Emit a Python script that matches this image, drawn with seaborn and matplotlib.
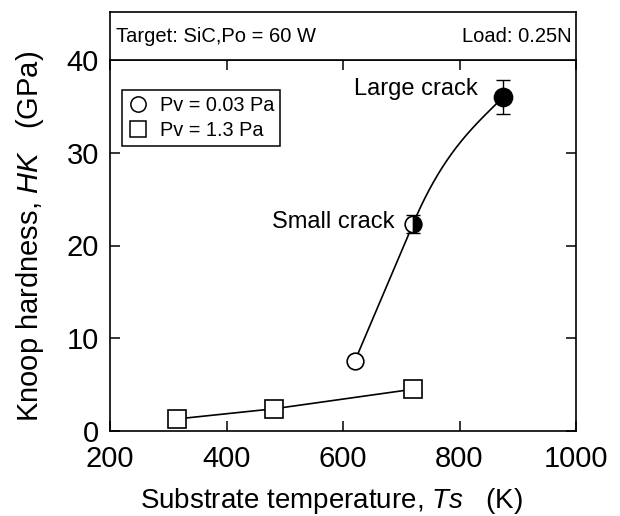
import numpy as np
import pandas as pd
import matplotlib
matplotlib.use("Agg")
import matplotlib.pyplot as plt
from matplotlib.lines import Line2D
import seaborn as sns

# Knoop hardness of SiC films vs substrate temperature
ts_low_p = [620, 720, 875]          # Pv = 0.03 Pa, substrate temperature (K)
hk_low_p = [7.5, 22.3, 36.0]        # Knoop hardness (GPa)
err_low_p = [0.0, 1.0, 1.8]         # hardness scatter (GPa)

ts_high_p = [315, 482, 720]         # Pv = 1.3 Pa
hk_high_p = [1.3, 2.4, 4.5]

x_ticks = [200, 400, 600, 800, 1000]
y_ticks = [0, 10, 20, 30, 40]

sns.set_style("ticks")
plt.rcParams["font.family"] = ["Liberation Sans", "DejaVu Sans"]
plt.rcParams["mathtext.fontset"] = "custom"
plt.rcParams["mathtext.it"] = "Liberation Sans:italic"
plt.rcParams["mathtext.rm"] = "Liberation Sans"
for key in ("text.color", "axes.labelcolor", "xtick.color", "ytick.color",
            "axes.edgecolor"):
    plt.rcParams[key] = "black"

fig = plt.figure(figsize=(6.2, 5.16), dpi=100)
ax = fig.add_axes([110 / 620, 85 / 516, 466 / 620, 371 / 516])
hdr = fig.add_axes([110 / 620, 456 / 516, 466 / 620, 48 / 516])

# guide curve: straight rise between the first two points, then a Hermite
# cubic that bends over towards the last point
x0, x1, x2 = ts_low_p
y0, y1, y2 = hk_low_p
m_start = (y1 - y0) / (x1 - x0)
m_end = 0.062
seg1_x = np.array([x0, x1])
seg1_y = np.array([y0, y1])
t = np.linspace(0, 1, 200)
h = x2 - x1
h00 = 2 * t**3 - 3 * t**2 + 1
h10 = t**3 - 2 * t**2 + t
h01 = -2 * t**3 + 3 * t**2
h11 = t**3 - t**2
seg2_x = x1 + h * t
seg2_y = h00 * y1 + h10 * h * m_start + h01 * y2 + h11 * h * m_end
ax.plot(np.concatenate([seg1_x, seg2_x]), np.concatenate([seg1_y, seg2_y]),
        color="black", lw=1.2, zorder=2)

# high-pressure series with straight segments
df_high = pd.DataFrame({"Ts": ts_high_p, "HK": hk_high_p})
sns.lineplot(data=df_high, x="Ts", y="HK", ax=ax, color="black", lw=1.2,
             marker="s", markersize=13, markerfacecolor="white",
             markeredgecolor="black", markeredgewidth=1.2, zorder=3)

# low-pressure markers: open, half-filled, filled
fills = ["none", "right", "full"]
for x, y, e, fs in zip(ts_low_p, hk_low_p, err_low_p, fills):
    if e > 0:
        ax.errorbar(x, y, yerr=e, fmt="none", ecolor="black", elinewidth=1.0,
                    capsize=5, capthick=1.0, zorder=3)
    if fs == "none":
        ax.plot(x, y, "o", ms=12, mfc="white", mec="black", mew=1.2, zorder=4)
    elif fs == "right":
        ax.plot(x, y, "o", ms=12, fillstyle="right", mfc="black",
                markerfacecoloralt="white", mec="black", mew=1.2, zorder=4)
    else:
        ax.plot(x, y, "o", ms=13, mfc="black", mec="black", mew=1.2, zorder=4)

ax.text(832, 36.9, "Large crack", ha="right", va="center", fontsize=17)
ax.text(688, 22.5, "Small crack", ha="right", va="center", fontsize=17)

ax.set_xlim(200, 1000)
ax.set_ylim(0, 40)
ax.set_xticks(x_ticks)
ax.set_yticks(y_ticks)
ax.tick_params(direction="in", length=7, width=1.1, top=True, right=True,
               labelsize=21, pad=8, colors="black")
ax.tick_params(axis="x", pad=10)
for s in ax.spines.values():
    s.set_linewidth(1.2)
    s.set_color("black")

ax.set_xlabel("Substrate temperature, $Ts$   (K)", fontsize=20)
ax.set_ylabel("Knoop hardness, $HK$   (GPa)", fontsize=21)
ax.xaxis.set_label_coords(0.475, -0.148)
ax.yaxis.set_label_coords(-0.137, 0.524)

handles = [
    Line2D([], [], ls="none", marker="o", ms=11, mfc="white", mec="black", mew=1.1),
    Line2D([], [], ls="none", marker="s", ms=12, mfc="white", mec="black", mew=1.1),
]
leg = ax.legend(handles, ["Pv = 0.03 Pa", "Pv = 1.3 Pa"], loc="upper left",
                bbox_to_anchor=(0.026, 0.919), borderaxespad=0, fontsize=14.3,
                frameon=True, fancybox=False, edgecolor="black",
                handlelength=1.0, handletextpad=0.6, borderpad=0.3,
                labelspacing=0.3)
leg.get_frame().set_linewidth(1.1)
leg.get_frame().set_alpha(1)

# header strip with test conditions
hdr.set_xlim(0, 1)
hdr.set_ylim(0, 1)
hdr.set_xticks([])
hdr.set_yticks([])
for s in hdr.spines.values():
    s.set_linewidth(1.2)
    s.set_color("black")
hdr.text(0.013, 0.5, "Target: SiC,Po = 60 W", ha="left", va="center", fontsize=14.5)
hdr.text(0.99, 0.5, "Load: 0.25N", ha="right", va="center", fontsize=14.5)

fig.savefig("out.png", dpi=100, facecolor="white")
